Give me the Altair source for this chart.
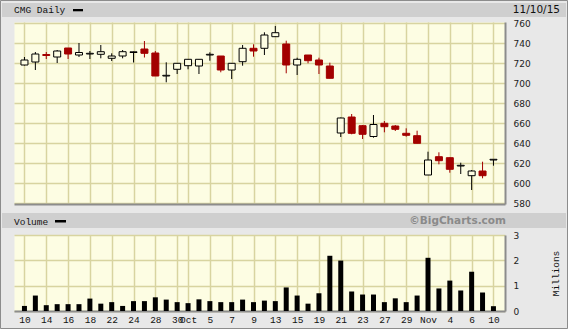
import altair as alt
import pandas as pd

# ---------------- data ----------------
DATES = ["2015-09-10", "2015-09-11", "2015-09-14", "2015-09-15", "2015-09-16", "2015-09-17",
         "2015-09-18", "2015-09-21", "2015-09-22", "2015-09-23", "2015-09-24", "2015-09-25",
         "2015-09-28", "2015-09-29", "2015-09-30", "2015-10-01", "2015-10-02", "2015-10-05",
         "2015-10-06", "2015-10-07", "2015-10-08", "2015-10-09", "2015-10-12", "2015-10-13",
         "2015-10-14", "2015-10-15", "2015-10-16", "2015-10-19", "2015-10-20", "2015-10-21",
         "2015-10-22", "2015-10-23", "2015-10-26", "2015-10-27", "2015-10-28", "2015-10-29",
         "2015-10-30", "2015-11-02", "2015-11-03", "2015-11-04", "2015-11-05", "2015-11-06",
         "2015-11-09", "2015-11-10"]
OPEN = [718.0, 721.0, 728.5, 726.0, 735.0, 728.0, 729.0, 728.7, 724.7, 727.0, 730.5, 734.0,
        730.0, 707.0, 713.7, 717.3, 717.0, 728.0, 727.0, 713.0, 721.3, 734.7, 734.7, 746.3,
        739.0, 718.0, 728.0, 723.0, 717.0, 650.0, 666.0, 657.3, 646.5, 659.7, 657.0, 649.7,
        647.3, 608.0, 626.3, 625.3, 617.0, 607.3, 612.0, 623.0]
HIGH = [726.0, 731.0, 731.0, 733.0, 735.0, 740.0, 732.0, 738.0, 729.7, 733.0, 731.5, 742.0,
        732.0, 720.7, 720.0, 724.0, 724.0, 730.7, 727.0, 720.0, 738.0, 738.7, 750.7, 757.0,
        742.3, 725.3, 728.0, 725.3, 720.3, 665.5, 669.0, 658.0, 668.0, 662.0, 658.0, 654.7,
        652.3, 631.3, 630.7, 625.5, 620.3, 613.0, 621.3, 623.5]
LOW = [717.5, 713.0, 724.0, 720.0, 724.0, 726.0, 724.0, 724.7, 722.0, 724.7, 720.5, 725.5,
       707.0, 700.7, 709.0, 713.7, 709.0, 722.3, 710.7, 704.0, 717.3, 726.3, 728.0, 746.0,
       709.7, 708.0, 719.7, 709.0, 704.7, 646.0, 648.7, 644.0, 645.3, 650.7, 652.0, 646.3,
       639.7, 608.0, 618.7, 610.3, 609.0, 593.0, 604.7, 617.3]
CLOSE = [723.0, 729.0, 727.5, 732.0, 729.0, 730.5, 729.7, 731.3, 727.0, 731.3, 731.2, 729.7,
         707.0, 707.7, 719.7, 723.7, 723.7, 728.7, 713.0, 719.7, 734.7, 732.0, 748.0, 750.3,
         718.0, 723.7, 722.3, 718.0, 704.7, 665.0, 649.7, 648.7, 658.5, 656.3, 653.7, 647.7,
         639.7, 623.0, 622.3, 613.7, 617.7, 612.0, 607.3, 623.7]
VOLUME = [0.20, 0.61, 0.23, 0.27, 0.27, 0.27, 0.49, 0.29, 0.35, 0.20, 0.39, 0.39,
          0.54, 0.45, 0.35, 0.31, 0.46, 0.39, 0.35, 0.35, 0.45, 0.35, 0.41, 0.39,
          0.93, 0.61, 0.29, 0.70, 2.18, 1.99, 0.77, 0.65, 0.65, 0.35, 0.50, 0.35,
          0.61, 2.10, 0.89, 1.20, 0.81, 1.55, 0.73, 0.19]

TICK_IDX = [0, 2, 4, 6, 8, 10, 12, 14, 15, 17, 19, 21, 23, 25, 27, 29, 31, 33, 35, 37, 39, 41, 43]
TICK_LABELS = ["10", "14", "16", "18", "22", "24", "28", "30", "Oct", "5", "7", "9", "13",
               "15", "19", "21", "23", "27", "29", "Nov", "4", "6", "10"]
PRICE_TICKS = [580, 600, 620, 640, 660, 680, 700, 720, 740, 760]
VOL_TICKS = [0, 1, 2, 3]

TITLE = "CMG Daily"
DATE_LABEL = "11/10/15"
VOL_TITLE = "Volume"
CREDIT = "\u00a9BigCharts.com"
VOL_AXIS_TITLE = "Millions"

# ---------------- styles ----------------
BG = "#E8E8E8"
BAND = "#CFCFCF"
PLOT_BG = "#FDFDE3"
GRID = "#D8D4A0"
RED = "#A30000"
FRAME = "#8C8C8C"
MONO = "Liberation Mono"
SANS = "DejaVu Sans"

n = len(DATES)
df = pd.DataFrame({"i": list(range(n)), "date": DATES, "open": OPEN, "high": HIGH,
                   "low": LOW, "close": CLOSE, "vol": VOLUME})

labels_all = [""] * n
for k, lab in zip(TICK_IDX, TICK_LABELS):
    labels_all[k] = lab
label_expr = "[" + ",".join("'" + s + "'" for s in labels_all) + "][datum.value]"

X_DOM = [-0.5, 43.6]
W = 491


def one(val):
    return pd.DataFrame({"t": [val]})


# ---------------- price panel ----------------
x_price = alt.X("i:Q", scale=alt.Scale(domain=X_DOM, nice=False, zero=False),
                axis=alt.Axis(values=TICK_IDX, labels=False, ticks=False, grid=True,
                              gridColor=GRID, gridWidth=1.5, domainColor=FRAME,
                              domainWidth=2, title=None))
price_scale = alt.Scale(domain=[579, 761], nice=False, zero=False)
price_axis = alt.Axis(values=PRICE_TICKS, orient="right", ticks=False, grid=True,
                      gridColor=GRID, gridWidth=1.5, domainColor=FRAME,
                      domainWidth=2, labelPadding=8, labelFont=SANS,
                      labelFontSize=9, labelColor="#222", labelOverlap=False,
                      labelBound=False, title=None)

is_down = alt.datum.close < alt.datum.open

wicks = alt.Chart(df).mark_rule(strokeWidth=1).encode(
    x=x_price, y=alt.Y("low:Q", scale=price_scale, axis=price_axis), y2="high:Q",
    color=alt.condition(is_down, alt.value(RED), alt.value("black")))

bodies = alt.Chart(df).mark_bar(size=7, strokeWidth=1).encode(
    x=x_price,
    y=alt.Y("open:Q", scale=price_scale, axis=price_axis),
    y2="close:Q",
    fill=alt.condition(is_down, alt.value(RED), alt.value(PLOT_BG)),
    stroke=alt.condition(is_down, alt.value(RED), alt.value("black")))

frame = alt.Chart(one(0)).mark_rect(fillOpacity=0, stroke=FRAME, strokeWidth=1).encode(
    x=alt.value(-13.5), x2=alt.value(553.5), y=alt.value(-21.5), y2=alt.value(306.5))

band1 = alt.Chart(one(0)).mark_rect(color=BAND).encode(
    x=alt.value(-12), x2=alt.value(552), y=alt.value(-19), y2=alt.value(-5))

title_txt = alt.Chart(one(TITLE)).mark_text(
    align="left", baseline="middle", font=MONO, fontSize=9.5, color="#111").encode(
    x=alt.value(0), y=alt.value(-12.3), text="t:N")

dash1 = alt.Chart(one(0)).mark_rect(color="black").encode(
    x=alt.value(59), x2=alt.value(69), y=alt.value(-13), y2=alt.value(-10.7))

date_txt = alt.Chart(one(DATE_LABEL)).mark_text(
    align="right", baseline="middle", font=SANS, fontSize=10.5, color="#111").encode(
    x=alt.value(546), y=alt.value(-12.3), text="t:N")

price = alt.layer(frame, band1, title_txt, dash1, date_txt, wicks, bodies).properties(
    width=W, height=182)

# ---------------- volume panel ----------------
x_vol = alt.X("i:Q", scale=alt.Scale(domain=X_DOM, nice=False, zero=False),
              axis=alt.Axis(values=TICK_IDX, labelExpr=label_expr, ticks=False, grid=True,
                            gridColor=GRID, gridWidth=1.5, domainColor=FRAME, domainWidth=2,
                            labelFont=MONO, labelFontSize=9.5, labelColor="#111",
                            labelPadding=3, labelOverlap=False, title=None))
y_vol = alt.Y("vol:Q", scale=alt.Scale(domain=[0, 3], nice=False),
              axis=alt.Axis(values=VOL_TICKS, orient="right", ticks=False, grid=True,
                            gridColor=GRID, gridWidth=1.5, domainColor=FRAME, domainWidth=2,
                            labelPadding=8, labelFont=SANS, labelFontSize=9,
                            labelColor="#222", labelOverlap=False, labelBound=False,
                            title=VOL_AXIS_TITLE, titleFont=MONO,
                            titleFontSize=9.5, titleFontWeight="normal", titleColor="#111",
                            titleAngle=270, titleX=50, titleY=38, titleAlign="center",
                            titleBaseline="middle"))

vbars = alt.Chart(df).mark_bar(size=5, color="black").encode(x=x_vol, y=y_vol)

band2 = alt.Chart(one(0)).mark_rect(color=BAND).encode(
    x=alt.value(-12), x2=alt.value(552), y=alt.value(-22), y2=alt.value(-7))

vol_txt = alt.Chart(one(VOL_TITLE)).mark_text(
    align="left", baseline="middle", font=MONO, fontSize=9.5, color="#111").encode(
    x=alt.value(0), y=alt.value(-13.5), text="t:N")

dash2 = alt.Chart(one(0)).mark_rect(color="black").encode(
    x=alt.value(41), x2=alt.value(52), y=alt.value(-15), y2=alt.value(-12.5))

credit_txt = alt.Chart(one(CREDIT)).mark_text(
    align="right", baseline="middle", font=SANS, fontSize=10.5, fontWeight="bold",
    color="#8A8A8A").encode(x=alt.value(492), y=alt.value(-14), text="t:N")

volume = alt.layer(band2, vol_txt, dash2, credit_txt, vbars).properties(width=W, height=76)

chart = alt.vconcat(price, volume, spacing=31, bounds="flush", padding=0).configure(
    background=BG
).configure_view(fill=PLOT_BG, strokeOpacity=0)

chart.save("out.html", embed_options={"renderer": "svg", "actions": False})
